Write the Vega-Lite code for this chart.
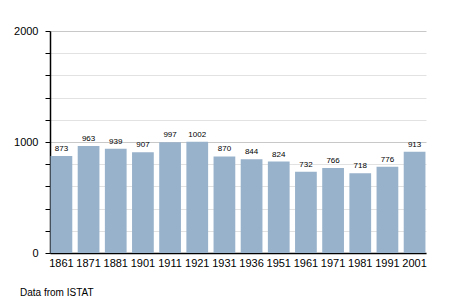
{
  "$schema": "https://vega.github.io/schema/vega-lite/v6.json",
  "autosize": {"type": "none"},
  "width": 376,
  "height": 222,
  "padding": {"left": 50, "top": 31, "right": 29, "bottom": 50},
  "background": "white",
  "config": {
    "font": "Liberation Sans",
    "view": {"stroke": null}
  },
  "title": {
    "text": "Data from ISTAT",
    "orient": "bottom",
    "anchor": "start",
    "frame": "group",
    "dx": -30,
    "offset": 20,
    "fontSize": 10,
    "fontWeight": "normal",
    "color": "black"
  },
  "data": {
    "values": [
      {"year": "1861", "pop": 873},
      {"year": "1871", "pop": 963},
      {"year": "1881", "pop": 939},
      {"year": "1901", "pop": 907},
      {"year": "1911", "pop": 997},
      {"year": "1921", "pop": 1002},
      {"year": "1931", "pop": 870},
      {"year": "1936", "pop": 844},
      {"year": "1951", "pop": 824},
      {"year": "1961", "pop": 732},
      {"year": "1971", "pop": 766},
      {"year": "1981", "pop": 718},
      {"year": "1991", "pop": 776},
      {"year": "2001", "pop": 913}
    ]
  },
  "encoding": {
    "x": {
      "field": "year",
      "type": "ordinal",
      "sort": null,
      "scale": {"paddingInner": 0.2, "paddingOuter": 0.02},
      "axis": {
        "title": null,
        "labelAngle": 0,
        "ticks": false,
        "labelFontSize": 11,
        "labelColor": "black",
        "labelPadding": 4,
        "domainColor": "black",
        "domainWidth": 1.5
      }
    },
    "y": {
      "field": "pop",
      "type": "quantitative",
      "scale": {"domain": [0, 2000], "nice": false},
      "axis": {
        "title": null,
        "values": [0, 200, 400, 600, 800, 1000, 1200, 1400, 1600, 1800, 2000],
        "labelExpr": "datum.value % 1000 == 0 ? datum.label : ''",
        "format": "d",
        "labelFontSize": 11,
        "labelColor": "black",
        "labelPadding": 7,
        "tickSize": 5,
        "tickColor": "black",
        "domainColor": "black",
        "domainWidth": 1.5,
        "gridColor": {"condition": {"test": "datum.value % 1000 == 0", "value": "#c8c8c8"}, "value": "#e2e2e2"},
        "gridWidth": 1
      }
    }
  },
  "layer": [
    {"mark": {"type": "bar", "color": "#98b2cb"}},
    {
      "mark": {"type": "text", "baseline": "bottom", "dy": -3, "fontSize": 8, "color": "black"},
      "encoding": {"text": {"field": "pop", "type": "quantitative"}}
    }
  ]
}
